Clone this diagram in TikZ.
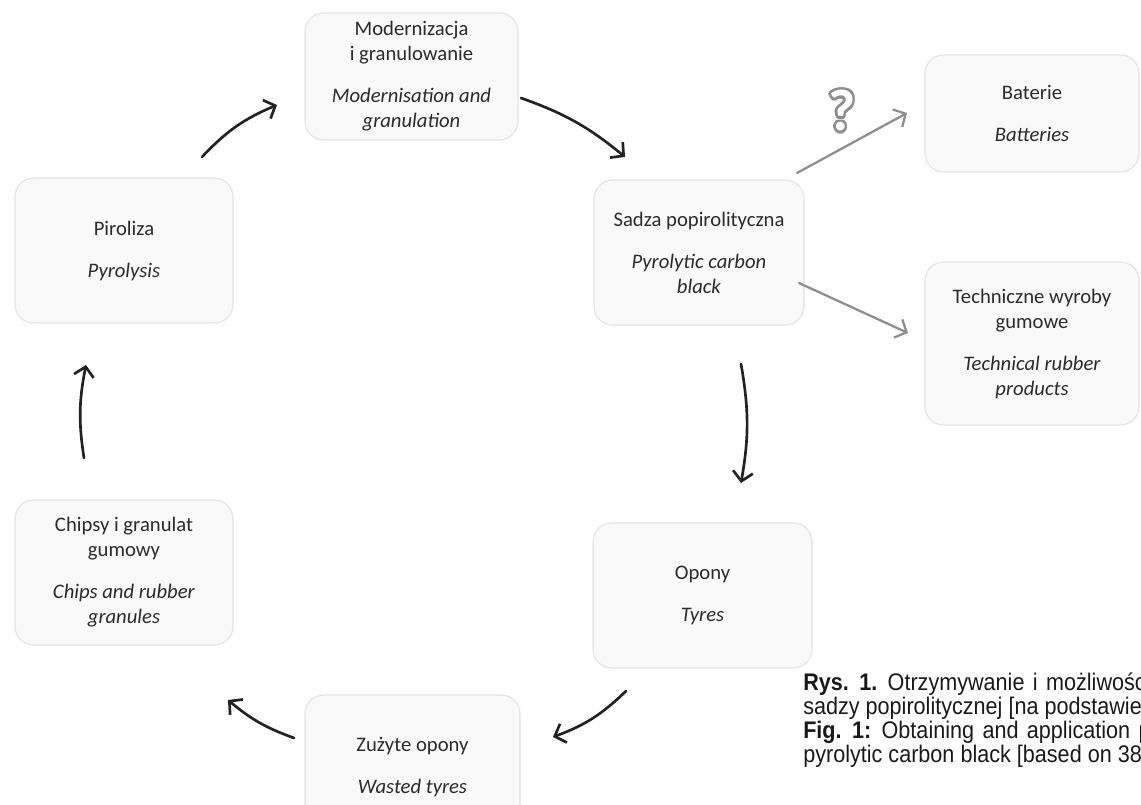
\documentclass[tikz,border=0pt]{standalone}
\usepackage{fontspec}
\setmainfont{Carlito}
\newfontfamily\capfont[FakeStretch=0.9]{Liberation Sans}
\usepackage{contour}
\contourlength{1.9pt}
\usetikzlibrary{arrows.meta}
\definecolor{boxfill}{HTML}{F9F9F9}
\definecolor{boxline}{HTML}{E3E3E3}
\definecolor{txt}{HTML}{2B2B2B}
\definecolor{arr}{HTML}{222222}
\definecolor{garr}{HTML}{8E8E8E}
\begin{document}
\begin{tikzpicture}[x=0.75pt,y=-0.75pt,
  box/.style={draw=boxline, fill=boxfill, rounded corners=14pt, line width=0.8pt,
    align=center, text=txt, inner sep=0pt, font=\fontsize{15.5}{18.75}\selectfont},
  flow/.style={draw=arr, line width=2pt, line cap=round,
    -{Straight Barb[length=7pt,width=15pt,line width=2pt]}},
  side/.style={draw=garr, line width=1.7pt, line cap=round,
    -{Straight Barb[length=7pt,width=15pt,line width=1.7pt]}},
  captxt/.style={anchor=base west, inner sep=0pt, text=black!90,
    font=\capfont\fontsize{18}{18}\selectfont}
]
\useasboundingbox (0,0) rectangle (1141,805);
\clip (0,0) rectangle (1141,805);

% boxes
\node[box, minimum width=159.75pt, minimum height=95.25pt] (mod) at (411.5,76.5)
  {Modernizacja\\i granulowanie\\[12.75pt]\textit{Modernisation and}\\\textit{granulation}};
\node[box, minimum width=157.5pt, minimum height=108.75pt] (sad) at (699,252.5)
  {Sadza popirolityczna\\[12.75pt]\textit{Pyrolytic carbon}\\\textit{black}};
\node[box, minimum width=160.5pt, minimum height=87.75pt] (bat) at (1032,113.5)
  {Baterie\\[12.75pt]\textit{Batteries}};
\node[box, minimum width=160.5pt, minimum height=122.25pt] (tech) at (1032,343.5)
  {Techniczne wyroby\\gumowe\\[12.75pt]\textit{Technical rubber}\\\textit{products}};
\node[box, minimum width=163.5pt, minimum height=108.75pt] (pir) at (124,250.5)
  {Piroliza\\[12.75pt]\textit{Pyrolysis}};
\node[box, minimum width=163.5pt, minimum height=108.75pt] (chip) at (124,572.5)
  {Chipsy i granulat\\gumowy\\[12.75pt]\textit{Chips and rubber}\\\textit{granules}};
\node[box, minimum width=164.25pt, minimum height=108.75pt] (opo) at (702.5,595.5)
  {Opony\\[12.75pt]\textit{Tyres}};
\node[box, minimum width=161.25pt, minimum height=108.75pt] (zuz) at (412.5,767.5)
  {Zużyte opony\\[12.75pt]\textit{Wasted tyres}};

% question mark
\node[inner sep=0pt, font=\bfseries\fontsize{44}{44}\selectfont] (q) at (842,112)
  {\contour{garr}{\textcolor{white}{?}}};

% arrow end points
\coordinate (a1s) at (202,157); \coordinate (a1e) at (277,105);
\coordinate (a2s) at (521,98);  \coordinate (a2e) at (625,157);
\coordinate (a3s) at (741,364); \coordinate (a3e) at (741,483);
\coordinate (a4s) at (626,691); \coordinate (a4e) at (553,737);
\coordinate (a5s) at (294,738); \coordinate (a5e) at (228,700);
\coordinate (a6s) at (84,458);  \coordinate (a6e) at (86,365);
\coordinate (g1s) at (797,173); \coordinate (g1e) at (907,113);
\coordinate (g2s) at (799,283); \coordinate (g2e) at (908,333);

\draw[flow] (a1s) to[bend left=12] (a1e);
\draw[flow] (a2s) to[bend left=10] (a2e);
\draw[flow] (a3s) to[bend left=10] (a3e);
\draw[flow] (a4s) to[bend left=12] (a4e);
\draw[flow] (a5s) to[bend left=10] (a5e);
\draw[flow] (a6s) to[bend left=10] (a6e);
\draw[side] (g1s) -- (g1e);
\draw[side] (g2s) -- (g2e);

% caption
\node[captxt] (c1) at (803,690) {\spaceskip=6.3pt\relax\textbf{Rys. 1.} Otrzymywanie i możliwości zastosowania};
\node[captxt] (c2) at (803,714) {sadzy popirolitycznej [na podstawie 38]};
\node[captxt] (c3) at (803,738) {\spaceskip=6.3pt\relax\textbf{Fig. 1:} Obtaining and application possibilities};
\node[captxt] (c4) at (803,762) {pyrolytic carbon black [based on 38]};
\end{tikzpicture}
\end{document}
